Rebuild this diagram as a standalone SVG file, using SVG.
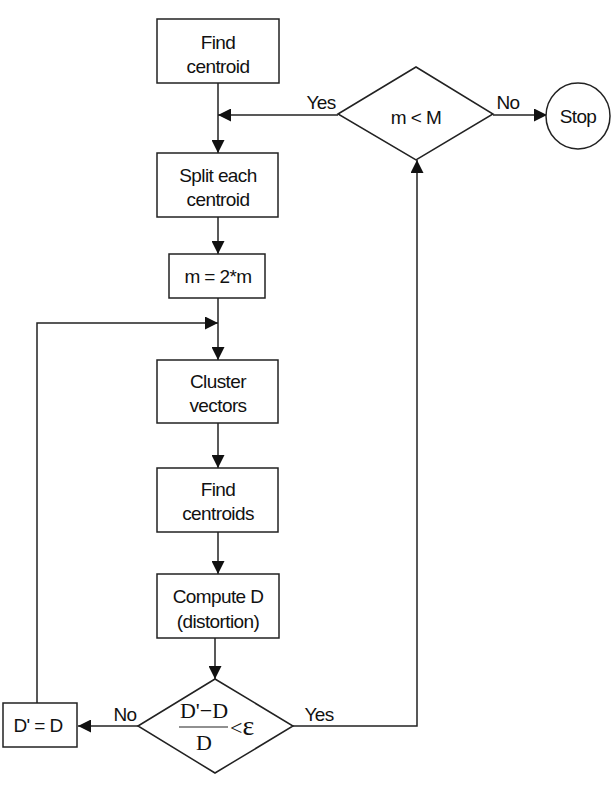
<svg xmlns="http://www.w3.org/2000/svg" width="612" height="795" viewBox="0 0 612 795">
<defs>
<marker id="arr" markerUnits="userSpaceOnUse" markerWidth="14" markerHeight="13" refX="13" refY="6.5" orient="auto">
<path d="M0,0 L13,6.5 L0,13 z" fill="#111"/>
</marker>
<style>
.box{fill:#fff;stroke:#222;stroke-width:1.5}
.ln{fill:none;stroke:#222;stroke-width:1.5}
.t{font-family:"Liberation Sans",Arial,sans-serif;font-size:19px;fill:#111;text-anchor:middle;letter-spacing:-0.6px}
.s{font-family:"Liberation Serif","Times New Roman",serif;font-size:22px;fill:#111;text-anchor:middle}
</style>
</defs>
<rect width="612" height="795" fill="#fff"/>
<g id="connectors">
<path class="ln" d="M218,83 V153" marker-end="url(#arr)"/>
<path class="ln" d="M338,115 H218" marker-end="url(#arr)"/>
<path class="ln" d="M493,115 H547" marker-end="url(#arr)"/>
<path class="ln" d="M218,217 V254" marker-end="url(#arr)"/>
<path class="ln" d="M218,298 V360" marker-end="url(#arr)"/>
<path class="ln" d="M37,703 V323 H218" marker-end="url(#arr)"/>
<path class="ln" d="M218,423 V468" marker-end="url(#arr)"/>
<path class="ln" d="M218,532 V574" marker-end="url(#arr)"/>
<path class="ln" d="M215,638 V679" marker-end="url(#arr)"/>
<path class="ln" d="M138,726 H78" marker-end="url(#arr)"/>
<path class="ln" d="M293,726 H417 V160" marker-end="url(#arr)"/>
<text class="t" x="321" y="109">Yes</text>
<text class="t" x="508" y="109">No</text>
<text class="t" x="125" y="721">No</text>
<text class="t" x="319" y="721">Yes</text>
</g>
<g id="find-centroid">
<rect class="box" x="157" y="19" width="122" height="64"/>
<text class="t" x="218" y="49">Find</text>
<text class="t" x="218" y="73">centroid</text>
</g>
<g id="m-lt-M">
<polygon class="box" points="338,114 416,67 493,114 416,160"/>
<text class="t" x="416" y="124">m &lt; M</text>
</g>
<g id="stop">
<ellipse class="box" cx="578" cy="116" rx="32" ry="33"/>
<text class="t" x="578" y="123">Stop</text>
</g>
<g id="split">
<rect class="box" x="157" y="153" width="121" height="64"/>
<text class="t" x="218" y="182">Split each</text>
<text class="t" x="218" y="206">centroid</text>
</g>
<g id="m-double">
<rect class="box" x="169" y="254" width="96" height="44"/>
<text class="t" x="218" y="283">m = 2*m</text>
</g>
<g id="cluster">
<rect class="box" x="157" y="360" width="121" height="63"/>
<text class="t" x="218" y="388">Cluster</text>
<text class="t" x="218" y="412">vectors</text>
</g>
<g id="find-centroids">
<rect class="box" x="157" y="468" width="121" height="64"/>
<text class="t" x="218" y="496">Find</text>
<text class="t" x="218" y="520">centroids</text>
</g>
<g id="compute-d">
<rect class="box" x="157" y="574" width="122" height="64"/>
<text class="t" x="218" y="603">Compute D</text>
<text class="t" x="218" y="628">(distortion)</text>
</g>
<g id="test">
<polygon class="box" points="138,726 215,679 293,726 215,773"/>
<text class="s" x="204" y="718">D'−D</text>
<line x1="179" y1="727" x2="228" y2="727" stroke="#222" stroke-width="1.2"/>
<text class="s" x="204" y="750">D</text>
<text class="s" x="230" y="735" style="text-anchor:start">&lt;<tspan font-size="28">ε</tspan></text>
</g>
<g id="d-prime">
<rect class="box" x="3" y="703" width="74" height="44"/>
<text class="t" x="38" y="732">D' = D</text>
</g>
</svg>
